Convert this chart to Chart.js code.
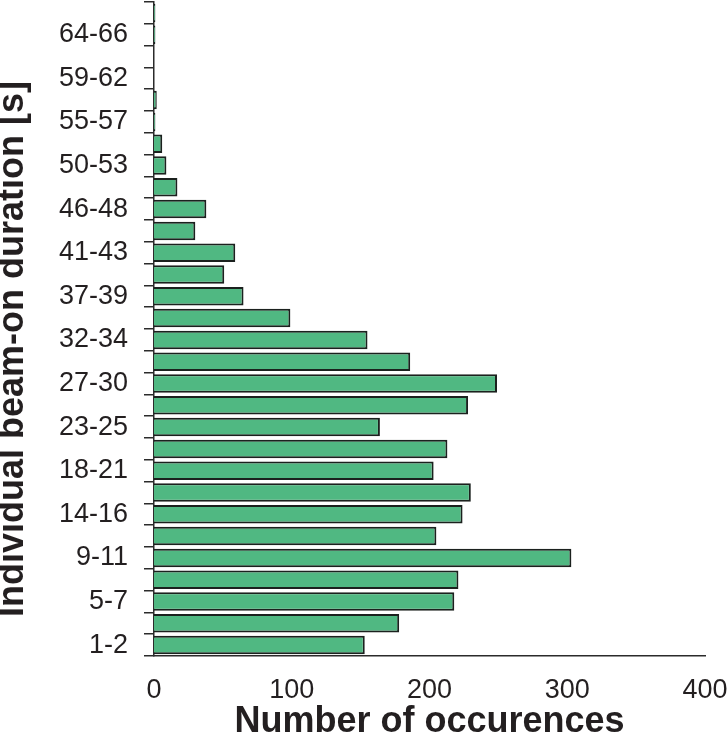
<!DOCTYPE html>
<html>
<head>
<meta charset="utf-8">
<script src="https://cdn.jsdelivr.net/npm/chart.js@4"></script>
<style>
  html, body { margin: 0; padding: 0; background: #fff; }
  #wrap { width: 728px; height: 740px; }
</style>
</head>
<body>
<div id="wrap"><canvas id="chart" width="728" height="740"></canvas></div>
<script>
// beam-on duration bins, bottom to top (only every other bin is labelled in the figure)
const durationLabels = ['1-2', '', '5-7', '', '9-11', '', '14-16', '', '18-21', '', '23-25', '',
  '27-30', '', '32-34', '', '37-39', '', '41-43', '', '46-48', '', '50-53', '', '55-57', '',
  '59-62', '', '64-66', ''];
const occurrences = [153, 178, 218, 221, 303, 205, 224, 230, 203, 213, 164, 228,
  249, 186, 155, 99, 65, 51, 59, 30, 38, 17, 9, 6, 1, 2,
  0, 0, 1, 1];
const xTicks = [0, 100, 200, 300, 400];

const axisColor = '#2b2b2b';
const textColor = '#231f20';

new Chart(document.getElementById('chart'), {
  type: 'bar',
  data: {
    labels: durationLabels,
    datasets: [{
      data: occurrences,
      backgroundColor: '#50b882',
      borderColor: '#1b211e',
      borderWidth: 2,
      barPercentage: 0.85,
      categoryPercentage: 1.0
    }]
  },
  options: {
    indexAxis: 'y',
    responsive: false,
    animation: false,
    layout: { padding: { top: 2, right: 23, bottom: 0, left: 0 } },
    plugins: { legend: { display: false }, tooltip: { enabled: false } },
    scales: {
      x: {
        min: xTicks[0],
        max: xTicks[xTicks.length - 1],
        afterBuildTicks: s => { s.ticks = xTicks.map(v => ({ value: v })); },
        grid: { display: false },
        border: { display: true, color: axisColor, width: 1.5 },
        ticks: { padding: 10, color: textColor, font: { family: 'Liberation Sans, Arial', size: 27 } },
        title: {
          display: true,
          text: 'Number of occurences',
          color: textColor,
          padding: 0,
          font: { family: 'Liberation Sans, Arial', size: 36, weight: 'bold', lineHeight: 1.0 }
        },
        afterFit: s => { s.height = 84; s.paddingLeft = 0; s.paddingRight = 0; }
      },
      y: {
        reverse: true,
        grid: { drawOnChartArea: false, tickLength: 10, color: axisColor, lineWidth: 1.5, offset: true },
        border: { display: true, color: axisColor, width: 1.5 },
        ticks: { autoSkip: false, padding: 16, color: textColor, font: { family: 'Liberation Sans, Arial', size: 27 } },
        title: {
          display: true,
          text: 'Individual beam-on duration [s]    ',
          color: textColor,
          padding: 0,
          font: { family: 'Liberation Sans, Arial', size: 36, weight: 'bold', lineHeight: 0.7 }
        },
        afterFit: s => { s.width = 154; s.paddingTop = 0; s.paddingBottom = 0; }
      }
    }
  }
});
</script>
</body>
</html>
